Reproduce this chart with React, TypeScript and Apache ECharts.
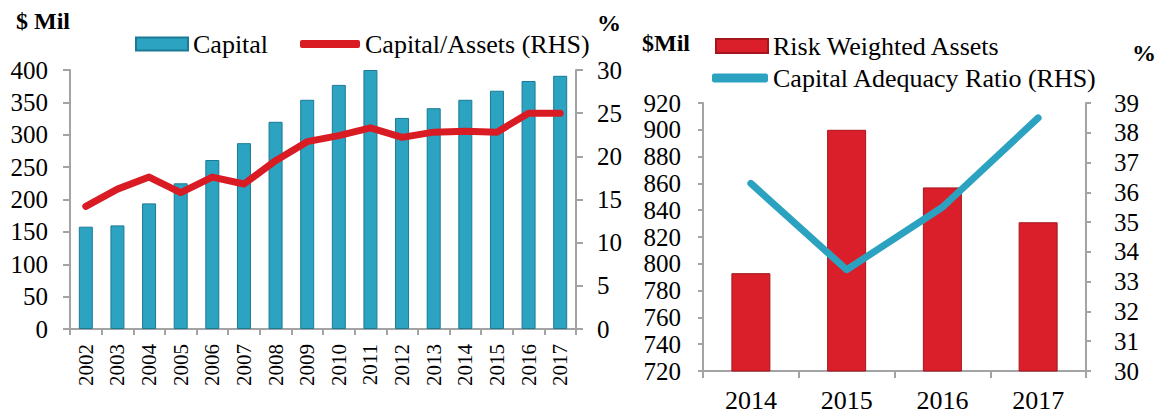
import React, { useEffect, useRef } from "react";
import * as echarts from "echarts";

const years1 = ["2002","2003","2004","2005","2006","2007","2008","2009","2010","2011","2012","2013","2014","2015","2016","2017"];
const capital = [158, 160, 194, 225, 261, 287, 320, 354, 377, 400, 326, 341, 354, 368, 383, 391];
const capitalAssets = [14.2, 16.2, 17.6, 15.8, 17.6, 16.8, 19.5, 21.7, 22.4, 23.3, 22.2, 22.8, 22.9, 22.8, 25.0, 25.0];

const years2 = ["2014","2015","2016","2017"];
const rwa = [793, 900, 857, 831];
const car = [36.3, 33.4, 35.5, 38.5];

const FONT = "'Liberation Serif', 'Times New Roman', serif";
const AXIS = "#a3a3a3";
const TEAL = "#2ca3c1";
const TEAL_B = "#1b7a94";
const RED = "#da1f2a";
const RED_B = "#a5151d";
const LINE_RED = "#d91c24";
const LINE_BLUE = "#2ba2c0";

export default function App() {
  const ref = useRef<HTMLDivElement>(null);
  useEffect(() => {
    document.body.style.margin = "0";
    const chart = echarts.init(ref.current!, null, { renderer: "svg" });
    const axisLine = { show: true, lineStyle: { color: AXIS, width: 2 } };
    const label = (size: number, margin: number) => ({ color: "#000", fontFamily: FONT, fontSize: size, margin });
    const legendText = { fontFamily: FONT, fontSize: 26, color: "#000" };
    const titleText = { fontFamily: FONT, fontSize: 24, fontWeight: "bold", color: "#000" };
    chart.setOption({
      animation: false,
      textStyle: { fontFamily: FONT },
      title: [
        { text: "$ Mil", left: 11, top: 4, textStyle: titleText },
        { text: "%", left: 592, top: 6, textStyle: titleText },
        { text: "$Mil", left: 637, top: 26, textStyle: titleText },
        { text: "%", left: 1127, top: 36, textStyle: titleText },
      ],
      legend: [
        { data: [{ name: "Capital", icon: "rect" }], left: 135, top: 31, padding: 0, itemWidth: 52, itemHeight: 13, textStyle: legendText },
        { data: [{ name: "Capital/Assets (RHS)", icon: "roundRect" }], left: 300, top: 31, padding: 0, itemWidth: 60, itemHeight: 8, textStyle: legendText },
        { data: [{ name: "Risk Weighted Assets", icon: "rect" }], left: 715, top: 33, padding: 0, itemWidth: 52, itemHeight: 14, textStyle: legendText },
        { data: [{ name: "Capital Adequacy Ratio (RHS)", icon: "roundRect" }], left: 712, top: 65, padding: 0, itemWidth: 56, itemHeight: 9, textStyle: legendText },
      ],
      grid: [
        { left: 70, top: 70, width: 506, height: 259 },
        { left: 703, top: 103, width: 383, height: 268 },
      ],
      xAxis: [
        { type: "category", gridIndex: 0, data: years1, axisLine, axisTick: { show: true, length: 6, lineStyle: { color: AXIS, width: 2 } },
          axisLabel: { ...label(21, 15), rotate: 90, interval: 0 } },
        { type: "category", gridIndex: 1, data: years2, axisLine, axisTick: { show: true, length: 7, lineStyle: { color: AXIS, width: 2 } },
          axisLabel: { ...label(26, 16), interval: 0 } },
      ],
      yAxis: [
        { type: "value", gridIndex: 0, min: 0, max: 400, interval: 50, axisLine, splitLine: { show: false },
          axisTick: { show: true, length: 7, lineStyle: { color: AXIS, width: 2 } }, axisLabel: label(25, 22) },
        { type: "value", gridIndex: 0, position: "right", min: 0, max: 30, interval: 5, axisLine, splitLine: { show: false },
          axisTick: { show: true, length: 7, lineStyle: { color: AXIS, width: 2 } }, axisLabel: label(25, 21) },
        { type: "value", gridIndex: 1, min: 720, max: 920, interval: 20, axisLine, splitLine: { show: false },
          axisTick: { show: true, length: 5, lineStyle: { color: AXIS, width: 2 } }, axisLabel: label(25, 22) },
        { type: "value", gridIndex: 1, position: "right", min: 30, max: 39, interval: 1, axisLine, splitLine: { show: false },
          axisTick: { show: true, length: 5, lineStyle: { color: AXIS, width: 2 } }, axisLabel: label(25, 28) },
      ],
      series: [
        { name: "Capital", type: "bar", xAxisIndex: 0, yAxisIndex: 0, data: capital, barWidth: 14,
          itemStyle: { color: TEAL, borderColor: TEAL_B, borderWidth: 1 } },
        { name: "Capital/Assets (RHS)", type: "line", xAxisIndex: 0, yAxisIndex: 1, data: capitalAssets, showSymbol: false, symbol: "none",
          itemStyle: { color: LINE_RED }, lineStyle: { color: LINE_RED, width: 7, cap: "round", join: "round" } },
        { name: "Risk Weighted Assets", type: "bar", xAxisIndex: 1, yAxisIndex: 2, data: rwa, barWidth: 39,
          itemStyle: { color: RED, borderColor: RED_B, borderWidth: 1 } },
        { name: "Capital Adequacy Ratio (RHS)", type: "line", xAxisIndex: 1, yAxisIndex: 3, data: car, showSymbol: false, symbol: "none",
          itemStyle: { color: LINE_BLUE }, lineStyle: { color: LINE_BLUE, width: 7, cap: "round", join: "round" } },
      ],
    });
    return () => chart.dispose();
  }, []);
  return <div ref={ref} style={{ width: 1155, height: 416 }} />;
}
